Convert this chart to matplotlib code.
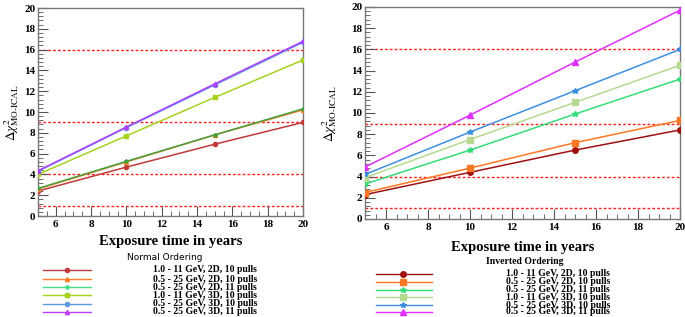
import matplotlib
matplotlib.use("Agg")
import matplotlib.pyplot as plt
from matplotlib.lines import Line2D
from matplotlib.ticker import MultipleLocator

plt.rcParams['mathtext.fontset'] = 'stix'
SERIF = ['Liberation Serif', 'DejaVu Serif']

years = [5, 10, 15, 20]
labels = ["1.0 - 11 GeV, 2D, 10 pulls",
          "0.5 - 25 GeV, 2D, 10 pulls",
          "0.5 - 25 GeV, 2D, 11 pulls",
          "1.0 - 11 GeV, 3D, 10 pulls",
          "0.5 - 25 GeV, 3D, 10 pulls",
          "0.5 - 25 GeV, 3D, 11 pulls"]

# Normal ordering
no_red = [2.4, 4.7, 6.9, 9.0]
no_orange = [2.6, 5.2, 7.8, 10.2]
no_mint = [2.65, 5.25, 7.8, 10.3]
no_yellow = [4.0, 7.7, 11.4, 15.0]
no_blue = [4.3, 8.5, 12.6, 16.7]
no_purple = [4.35, 8.55, 12.7, 16.8]

# Inverted ordering
io_red = [2.3, 4.4, 6.5, 8.4]
io_orange = [2.5, 4.8, 7.2, 9.3]
io_mint = [3.3, 6.5, 9.9, 13.2]
io_lgreen = [3.9, 7.5, 11.0, 14.5]
io_blue = [4.2, 8.2, 12.1, 16.0]
io_purple = [4.9, 9.8, 14.8, 19.7]

cl_levels = [1, 4, 9, 16]

no_colors = ['#c03a3a', '#ff7f2a', '#44dd88', '#a6d21e', '#5a9be0', '#c040ff']
no_plot_colors = ['#c03a3a', '#ff7f2a', '#44a03c', '#a6d21e', '#5a9be0', '#b040ff']
no_markers = ['o', '^', '*', 's', 'o', '^']
io_colors = ['#a01010', '#ff7722', '#33dd77', '#b5d98f', '#3f8fe0', '#e030ff']
io_markers = ['o', 's', '*', 's', '*', '^']

fig = plt.figure(figsize=(6.85, 3.17), dpi=100)
W, H = 685.0, 317.0

def make_axes(x0, x1, ytop, ybot):
    return fig.add_axes([x0 / W, 1 - ybot / H, (x1 - x0) / W, (ybot - ytop) / H])

axL = make_axes(38, 303, 8, 216)
axR = make_axes(365, 680, 7, 219)

def style(ax):
    ax.set_xlim(5, 20)
    ax.set_ylim(0, 20)
    ax.xaxis.set_major_locator(MultipleLocator(2))
    ax.xaxis.set_minor_locator(MultipleLocator(0.5))
    ax.yaxis.set_major_locator(MultipleLocator(2))
    ax.yaxis.set_minor_locator(MultipleLocator(0.4))
    ax.tick_params(which='both', direction='in', top=False, right=False, colors='#555555')
    ax.tick_params(which='major', length=7, width=0.8, labelsize=8, labelcolor='black')
    ax.tick_params(which='minor', length=3.5, width=0.6)
    ax.tick_params(axis='x', pad=3)
    ax.tick_params(axis='y', pad=2)
    for lab in ax.get_xticklabels() + ax.get_yticklabels():
        lab.set_fontfamily(SERIF)
        lab.set_fontweight('bold')
    for sp in ax.spines.values():
        sp.set_color('#777777')
        sp.set_linewidth(1.0)
    for lv in cl_levels:
        ax.axhline(lv, color='#ff2020', ls=(0, (2, 1.5)), lw=1.0, zorder=1)
    ax.set_xlabel('Exposure time in years', fontfamily=SERIF, fontweight='bold',
                  fontsize=10.5)
    ax.xaxis.label.set_verticalalignment('center')
    ax.set_ylabel(r'$\Delta\chi^2_{\rm MO\text{-}ICAL}$', fontsize=9.5)

no_data = [no_red, no_orange, no_mint, no_yellow, no_blue, no_purple]
io_data = [io_red, io_orange, io_mint, io_lgreen, io_blue, io_purple]

for d, c, m in zip(no_data, no_plot_colors, no_markers):
    axL.plot(years, d, color=c, marker=m, ms=3, lw=1.1, zorder=3)
for d, c, m in zip(io_data, io_colors, io_markers):
    axR.plot(years, d, color=c, marker=m, ms=4, lw=1.1, zorder=3)

style(axL)
style(axR)

# axis label positions (axes fraction)
axL.xaxis.set_label_coords(0.5, -(242 - 216) / 208)
axR.xaxis.set_label_coords(0.5, -(247 - 219) / 212)
axL.yaxis.set_label_coords((21 - 38) / 265, 0.5)
axR.yaxis.set_label_coords((339 - 365) / 315, 0.5)

# Legends
fig.text(165 / W, 1 - 257 / H, 'Normal Ordering', ha='center', va='center',
         fontsize=6.5, fontfamily='DejaVu Sans')
fig.text(525 / W, 1 - 261 / H, 'Inverted Ordering', ha='center', va='center',
         fontsize=7, fontfamily=SERIF, fontweight='bold')

rowsL = [270, 279, 287, 295, 304, 312]
rowsR = [274, 282, 290, 297, 305, 312]
for i in range(6):
    y = 1 - rowsL[i] / H
    fig.add_artist(Line2D([43 / W, 91 / W], [y, y], color=no_colors[i], lw=1.0))
    fig.add_artist(Line2D([67 / W], [y], color=no_colors[i], marker=no_markers[i], ms=3))
    fig.text(205 / W, y, labels[i], ha='center', va='center', fontsize=7,
             fontfamily=SERIF, fontweight='bold')
    y = 1 - rowsR[i] / H
    fig.add_artist(Line2D([376 / W, 432 / W], [y, y], color=io_colors[i], lw=1.0))
    fig.add_artist(Line2D([403 / W], [y], color=io_colors[i], marker=io_markers[i], ms=4))
    fig.text(558 / W, y, labels[i], ha='center', va='center', fontsize=7,
             fontfamily=SERIF, fontweight='bold')

fig.savefig('out.png', dpi=100)
